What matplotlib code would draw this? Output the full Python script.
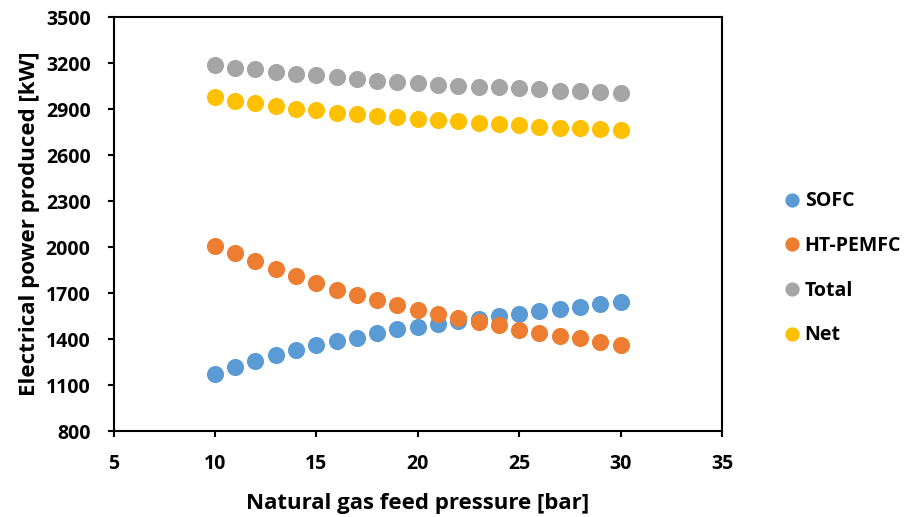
import matplotlib.pyplot as plt
import numpy as np

pressure = np.arange(10, 31)

sofc = [1172, 1216, 1260, 1293, 1330, 1363, 1388, 1410, 1440, 1465, 1478,
        1498, 1518, 1533, 1552, 1566, 1580, 1595, 1612, 1630, 1645]
ht_pemfc = [2010, 1959, 1909, 1859, 1811, 1763, 1722, 1690, 1656, 1623, 1590,
            1564, 1535, 1513, 1489, 1460, 1438, 1420, 1405, 1380, 1359]
total = [3189, 3170, 3163, 3146, 3130, 3122, 3111, 3096, 3087, 3078, 3070,
         3061, 3052, 3046, 3043, 3037, 3030, 3022, 3020, 3013, 3004]
net = [2980, 2954, 2939, 2922, 2904, 2896, 2878, 2867, 2854, 2846, 2837,
       2828, 2820, 2811, 2802, 2796, 2787, 2780, 2778, 2770, 2763]

series = [('SOFC', sofc, '#5B9BD5'),
          ('HT-PEMFC', ht_pemfc, '#ED7D31'),
          ('Total', total, '#A5A5A5'),
          ('Net', net, '#FFC000')]

plt.rcParams['font.family'] = ['Open Sans', 'DejaVu Sans']
plt.rcParams['font.weight'] = 'bold'

fig = plt.figure(figsize=(9.06, 5.17), dpi=100)
ax = fig.add_axes([0.1253, 0.1663, 0.6716, 0.8003])

for name, vals, col in series:
    ax.plot(pressure, vals, 'o', color=col, markersize=11.3, label=name)

ax.set_xlim(5, 35)
ax.set_ylim(800, 3500)
ax.set_xticks(np.arange(5, 36, 5))
ax.set_yticks(np.arange(800, 3501, 300))
ax.tick_params(direction='out', length=4.5, width=1.5, labelsize=14, pad=12)
for lab in ax.get_xticklabels() + ax.get_yticklabels():
    lab.set_fontweight('bold')
for sp in ax.spines.values():
    sp.set_linewidth(1.5)

ax.set_xlabel('Natural gas feed pressure [bar]', fontsize=16, fontweight='bold', labelpad=14)
ax.set_ylabel('Electrical power produced [kW]', fontsize=16, fontweight='bold', labelpad=4)

leg = ax.legend(loc='center left', bbox_to_anchor=(773 / 906, 1 - 268.4 / 517),
                bbox_transform=fig.transFigure, frameon=False, borderpad=0,
                prop={'size': 14, 'weight': 'bold'}, handletextpad=0.13,
                labelspacing=1.27, handlelength=1.0, markerscale=0.82)

fig.savefig('out.png', dpi=100)
